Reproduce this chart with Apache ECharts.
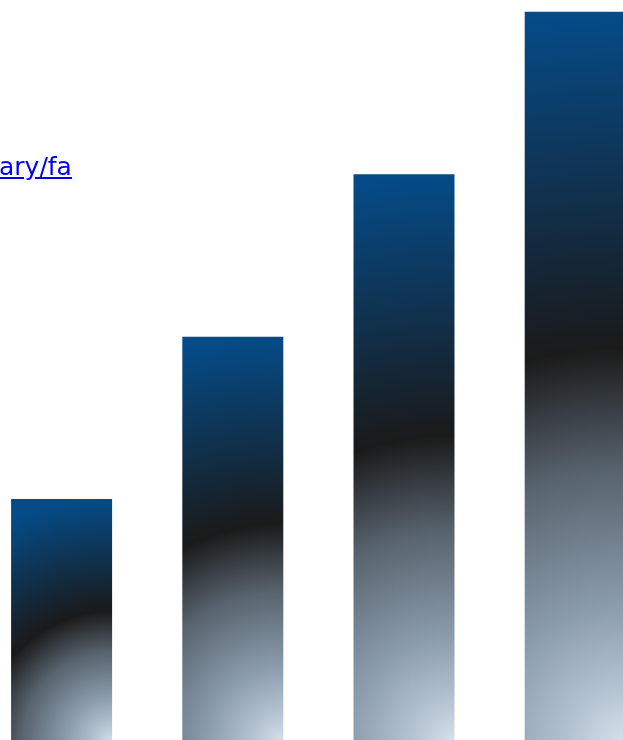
<!DOCTYPE html>
<html>
<head>
<meta charset="utf-8">
<script src="https://cdn.jsdelivr.net/npm/echarts@6/dist/echarts.min.js"></script>
<style>
  html, body { margin: 0; padding: 0; width: 623px; height: 740px; overflow: hidden; background: #ffffff; }
  #chart { position: absolute; left: -30px; top: 0; width: 720px; height: 760px; }
  #link { position: absolute; left: -1px; top: 154px; font-family: "DejaVu Sans", Verdana, sans-serif; font-size: 25px; line-height: 25px; color: #0000ee; text-decoration: underline; white-space: nowrap; z-index: 2; }
</style>
</head>
<body>
<a id="link" href="#">ary/fa</a>
<div id="chart"></div>
<script>
  // Data
  var categories = ['A', 'B', 'C', 'D'];
  var values = [3, 5, 7, 9];
  var yMax = 9;

  var BAR_WIDTH = 101;
  var chart = echarts.init(document.getElementById('chart'));

  function baseOption(data) {
    return {
      animation: false,
      grid: { left: 6, right: 29.2, top: 11.75, bottom: 17.25, containLabel: false },
      xAxis: {
        type: 'category',
        data: categories,
        axisLine: { show: false },
        axisTick: { show: false },
        axisLabel: { show: false },
        splitLine: { show: false }
      },
      yAxis: {
        type: 'value',
        min: 0,
        max: yMax,
        axisLine: { show: false },
        axisTick: { show: false },
        axisLabel: { show: false },
        splitLine: { show: false }
      },
      series: [{
        type: 'bar',
        barWidth: BAR_WIDTH,
        data: data
      }]
    };
  }

  chart.setOption(baseOption(values));

  // Per-bar radial gradients centred at each bar's bottom-right corner,
  // radius scaled to the bar's own height.
  var styled = values.map(function (v, i) {
    var top = chart.convertToPixel({ seriesIndex: 0 }, [i, v]);
    var bottom = chart.convertToPixel({ seriesIndex: 0 }, [i, 0]);
    var h = Math.abs(bottom[1] - top[1]);
    return {
      value: v,
      itemStyle: {
        color: {
          type: 'radial',
          x: 1,
          y: 1,
          r: h / BAR_WIDTH,
          colorStops: [
            { offset: 0, color: '#d6e1ec' },
            { offset: 0.08, color: '#b2c1d0' },
            { offset: 0.19, color: '#8a9bab' },
            { offset: 0.37, color: '#58646f' },
            { offset: 0.54, color: '#1a1a1a' },
            { offset: 1, color: '#054b87' }
          ]
        }
      }
    };
  });

  chart.setOption(baseOption(styled));
</script>
</body>
</html>
